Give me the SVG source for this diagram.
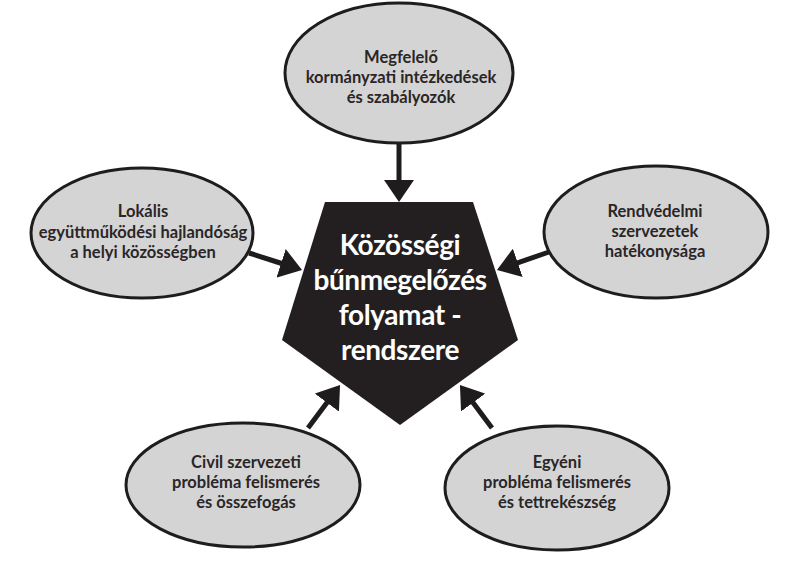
<svg xmlns="http://www.w3.org/2000/svg" width="801" height="568" viewBox="0 0 801 568">
<defs>
<style>
.ell{fill:#d4d4d4;stroke:#1f1c1d;stroke-width:3}
.lbl{font-family:Lato,"Open Sans","DejaVu Sans",sans-serif;font-weight:700;font-size:16.5px;fill:#2a2627;text-anchor:middle}
.ctr{font-family:Lato,"Open Sans","DejaVu Sans",sans-serif;font-weight:700;font-size:28px;letter-spacing:-0.4px;fill:#ffffff;text-anchor:middle}
.con{stroke:#1f1c1d;stroke-width:5;fill:none;marker-end:url(#ah)}
</style>
<marker id="ah" viewBox="0 0 22 30" refX="4" refY="15" markerWidth="22" markerHeight="30" markerUnits="userSpaceOnUse" orient="auto">
<path d="M0,0 L22,15 L0,30 z" fill="#1f1c1d"/>
</marker>
</defs>
<rect width="801" height="568" fill="#ffffff"/>
<g id="connectors">
<line class="con" x1="399" y1="143" x2="399" y2="184"/>
<line class="con" x1="249" y1="253" x2="284.9" y2="264.5"/>
<line class="con" x1="549" y1="252" x2="514" y2="264.1"/>
<line class="con" x1="308" y1="428" x2="329.3" y2="399.4"/>
<line class="con" x1="492" y1="428" x2="470.7" y2="399.4"/>
</g>
<g id="center">
<polygon points="325,202 473,202 518,340 400,425 282,340" fill="#231f20"/>
<text class="ctr" x="400" y="255">Közösségi</text>
<text class="ctr" x="400" y="290">bűnmegelőzés</text>
<text class="ctr" x="400" y="325">folyamat -</text>
<text class="ctr" x="400" y="360">rendszere</text>
</g>
<g id="top">
<ellipse class="ell" cx="399" cy="73" rx="114" ry="70"/>
<text class="lbl" x="401" y="63">Megfelelő</text>
<text class="lbl" x="401" y="83">kormányzati intézkedések</text>
<text class="lbl" x="401" y="103">és szabályozók</text>
</g>
<g id="left">
<ellipse class="ell" cx="142" cy="233" rx="111" ry="65"/>
<text class="lbl" x="143" y="217">Lokális</text>
<text class="lbl" x="143" y="238">együttműködési hajlandóság</text>
<text class="lbl" x="143" y="258">a helyi közösségben</text>
</g>
<g id="right">
<ellipse class="ell" cx="656" cy="232" rx="112" ry="66"/>
<text class="lbl" x="655" y="217">Rendvédelmi</text>
<text class="lbl" x="655" y="237">szervezetek</text>
<text class="lbl" x="655" y="257">hatékonysága</text>
</g>
<g id="bottom-left">
<ellipse class="ell" cx="243" cy="485" rx="117" ry="62"/>
<text class="lbl" x="246" y="468">Civil szervezeti</text>
<text class="lbl" x="246" y="488">probléma felismerés</text>
<text class="lbl" x="246" y="508">és összefogás</text>
</g>
<g id="bottom-right">
<ellipse class="ell" cx="557" cy="488" rx="112" ry="62"/>
<text class="lbl" x="557" y="468">Egyéni</text>
<text class="lbl" x="557" y="488">probléma felismerés</text>
<text class="lbl" x="557" y="508">és tettrekészség</text>
</g>
</svg>
